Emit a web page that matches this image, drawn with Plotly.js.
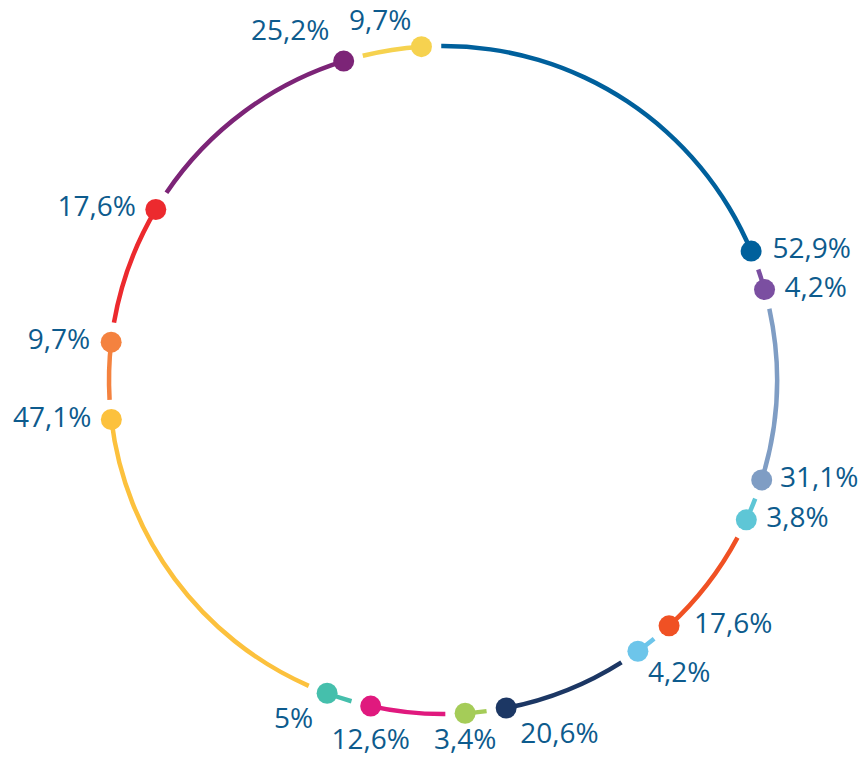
<!DOCTYPE html>
<html>
<head>
<meta charset="utf-8">
<script src="https://cdn.plot.ly/plotly-3.0.1.min.js"></script>
<style>html,body{margin:0;padding:0;background:#fff;}#chart{width:866px;height:761px;}</style>
</head>
<body>
<div id="chart"></div>
<script>
// Displayed percentages, clockwise from the top
const labels = ["52,9%", "4,2%", "31,1%", "3,8%", "17,6%", "4,2%", "20,6%", "3,4%", "12,6%", "5%", "47,1%", "9,7%", "17,6%", "25,2%", "9,7%"];
// Arc sweep of each segment (degrees between consecutive dots)
const arcSweep = [71.0, 7.0, 33.1, 7.35, 22.65, 6.9, 24.8, 7.1, 16.3, 7.8, 62.9, 13.3, 24.2, 42.0, 13.6];
const colors = ["#00609c", "#7b4fa1", "#7f9dc4", "#5ec6d6", "#f05124", "#6dc5ea", "#1c3764", "#a5cc58", "#e0197e", "#45bfac", "#fcc13d", "#f4823f", "#ec2a2e", "#7c2477", "#f6d24f"];
// label placement (style only)
const labelPos = ["middle right", "middle right", "middle right", "middle right", "middle right", "bottom right", "bottom right", "bottom center", "bottom center", "bottom left", "middle left", "middle left", "middle left", "top left", "top left"];
const labelPad = [32.5, 30.4, 27.7, 30.4, 38.4, 14.4, 20.8, 22.4, 34.2, 20.8, 30.4, 32, 30.4, 21.4, 14.4];

const startOffset = -3.7;   // angle of the last dot, relative to the top
const gapDeg = 3.4;         // gap after each dot before the next arc
const ringR = 1, thick = 0.0135;

const endAngles = [], centers = [], widths = [];
let prev = startOffset;
arcSweep.forEach(s => {
  const end = prev + s;
  const start = prev + gapDeg;
  endAngles.push(end);
  centers.push((start + end) / 2);
  widths.push(end - start);
  prev = end;
});

const arcs = {
  type: "barpolar",
  theta: centers,
  width: widths,
  r: centers.map(() => thick),
  base: centers.map(() => ringR - thick / 2),
  marker: {color: colors, line: {width: 0}},
  hoverinfo: "skip",
  showlegend: false
};

const dots = {
  type: "scatterpolar",
  mode: "markers",
  r: endAngles.map(() => ringR),
  theta: endAngles,
  marker: {color: colors, size: 21, line: {width: 0}},
  cliponaxis: false,
  hoverinfo: "skip",
  showlegend: false
};

const texts = {
  type: "scatterpolar",
  mode: "markers+text",
  r: endAngles.map(() => ringR),
  theta: endAngles,
  text: labels,
  textposition: labelPos,
  textfont: {family: "Open Sans, sans-serif", size: 28, color: "#0d5b8d"},
  marker: {color: "rgba(0,0,0,0)", size: labelPad, line: {width: 0}},
  cliponaxis: false,
  hoverinfo: "skip",
  showlegend: false
};

const layout = {
  width: 866, height: 761,
  margin: {l: 0, r: 0, t: 0, b: 0},
  paper_bgcolor: "#ffffff",
  showlegend: false,
  polar: {
    domain: {x: [0.10658, 0.91651], y: [0.03982, 0.96150]},
    bgcolor: "rgba(0,0,0,0)",
    barmode: "overlay",
    radialaxis: {visible: false, range: [0, 1.05], showgrid: false},
    angularaxis: {visible: false, rotation: 90, direction: "clockwise", showgrid: false, showline: false, showticklabels: false, ticks: ""}
  }
};

Plotly.newPlot("chart", [arcs, dots, texts], layout, {displayModeBar: false, staticPlot: true});
</script>
</body>
</html>
